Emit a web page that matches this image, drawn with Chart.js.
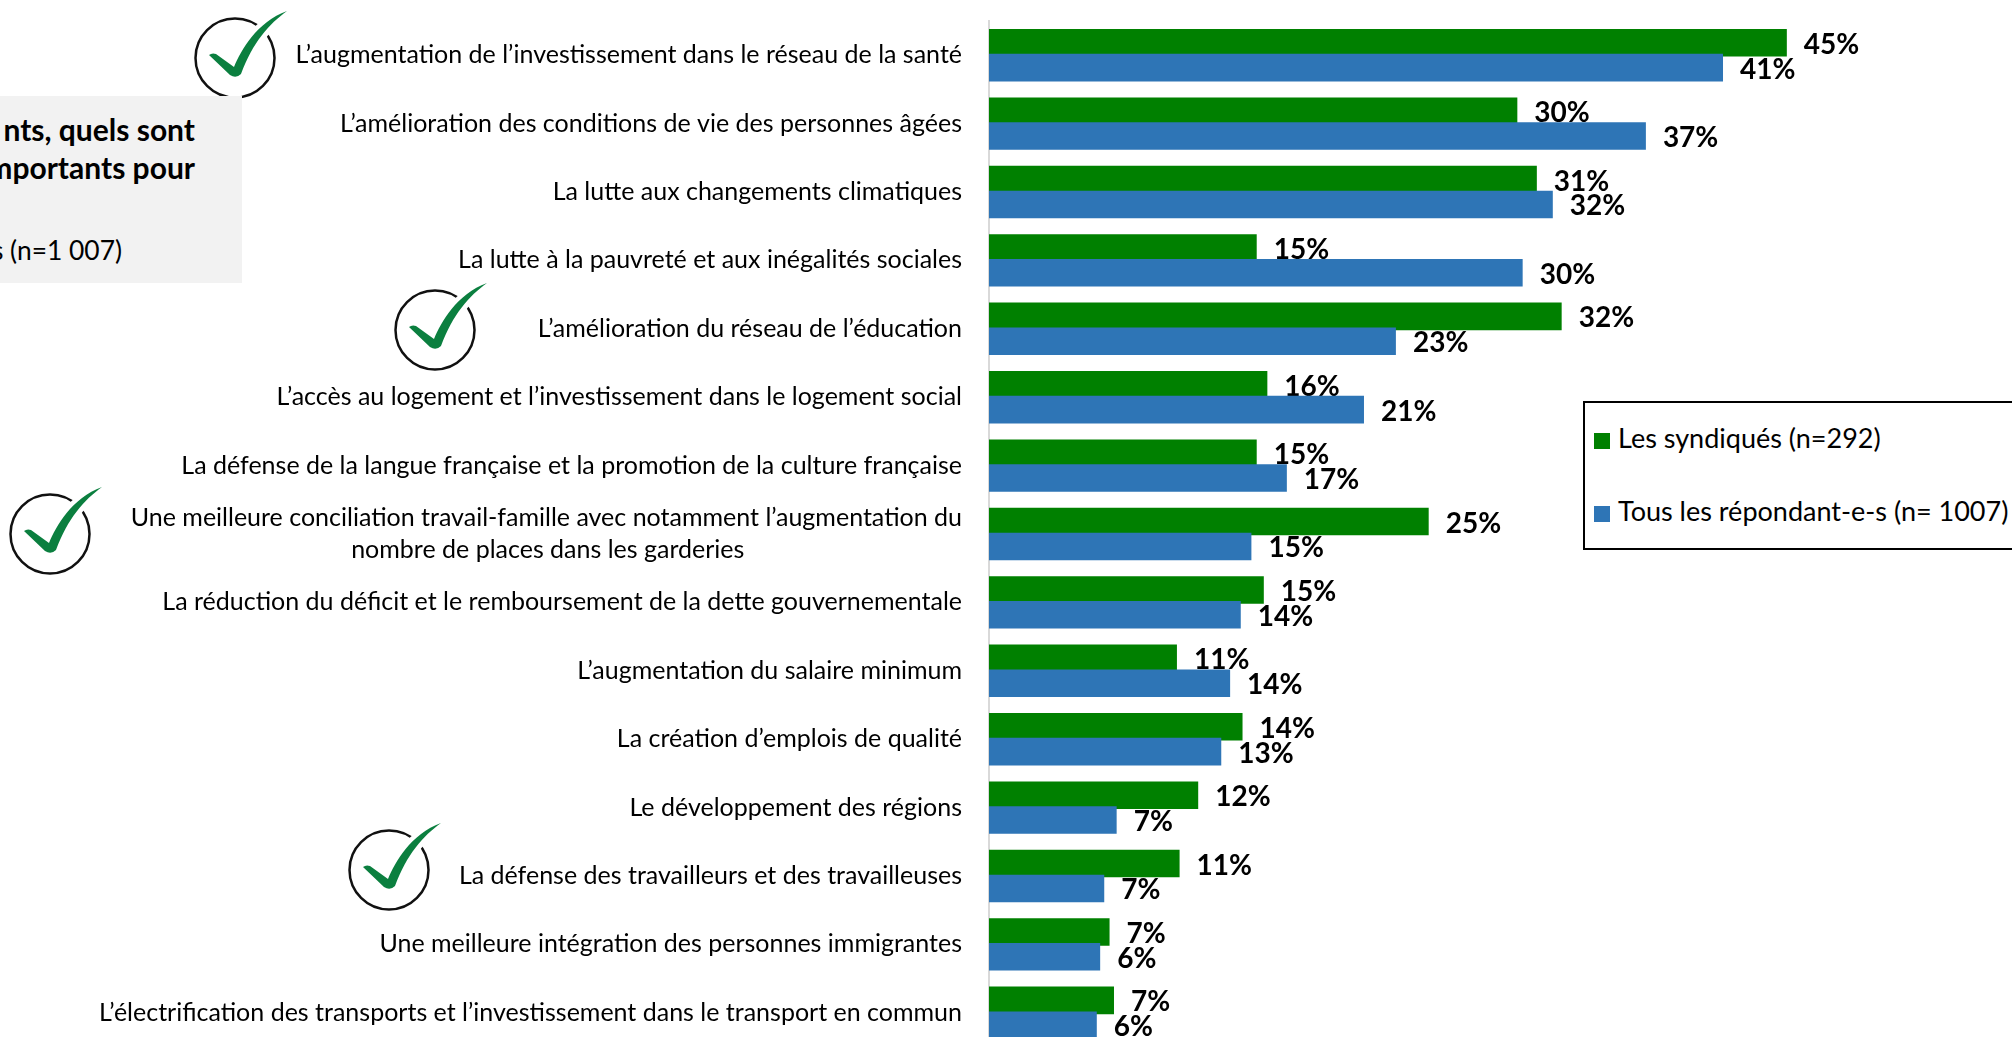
<!DOCTYPE html>
<html lang="fr">
<head>
<meta charset="utf-8">
<script src="https://cdn.jsdelivr.net/npm/chart.js@4/dist/chart.umd.min.js"></script>
<style>
html,body{margin:0;padding:0;background:#fff;overflow:hidden}
#wrap{position:relative;width:2012px;height:1037px;overflow:hidden;font-family:Lato,sans-serif;color:#000}
canvas{position:absolute;left:0;top:0}
#question{position:absolute;left:0;top:96px;width:242px;height:187px;background:#f2f2f2;overflow:hidden}
#question div{position:absolute;right:47px;white-space:nowrap;transform:translateY(-50%)}
#question .q{font-weight:700;font-size:30px}
#question .n{font-size:26.4px;right:120px}
#legend{position:absolute;left:1583px;top:401px;width:440px;height:145px;border:2px solid #000;box-sizing:content-box;background:#fff}
#legend .row{position:absolute;left:9px;white-space:nowrap;font-size:27px;line-height:30px}
#legend .sw{display:inline-block;width:16px;height:16px;margin-right:8px;vertical-align:-1px}
</style>
</head>
<body>
<div id="wrap">
  <canvas id="c" width="2012" height="1047"></canvas>
  <div id="question">
    <div class="q" style="top:33px">nts, quels sont</div>
    <div class="q" style="top:71px">mportants pour</div>
    <div class="n" style="top:154px">s (n=1 007)</div>
  </div>
  <div id="legend"></div>
</div>
<script>
const categories = [
  "L’augmentation de l’investissement dans le réseau de la santé",
  "L’amélioration des conditions de vie des personnes âgées",
  "La lutte aux changements climatiques",
  "La lutte à la pauvreté et aux inégalités sociales",
  "L’amélioration du réseau de l’éducation",
  "L’accès au logement et l’investissement dans le logement social",
  "La défense de la langue française et la promotion de la culture française",
  ["Une meilleure conciliation travail-famille avec notamment l’augmentation du", "nombre de places dans les garderies"],
  "La réduction du déficit et le remboursement de la dette gouvernementale",
  "L’augmentation du salaire minimum",
  "La création d’emplois de qualité",
  "Le développement des régions",
  "La défense des travailleurs et des travailleuses",
  "Une meilleure intégration des personnes immigrantes",
  "L’électrification des transports et l’investissement dans le transport en commun"
];
const seriesNames = ["Les syndiqués (n=292)", "Tous les répondant-e-s (n= 1007)"];
const seriesColors = ["#008000", "#2e75b6"];
const syndiques = [45, 29.8, 30.9, 15.1, 32.3, 15.7, 15.1, 24.8, 15.5, 10.6, 14.3, 11.8, 10.75, 6.8, 7.05];
const repondants = [41.4, 37.05, 31.8, 30.1, 22.95, 21.15, 16.8, 14.8, 14.2, 13.6, 13.1, 7.2, 6.5, 6.27, 6.08];
const syndiquesLabels = ["45%","30%","31%","15%","32%","16%","15%","25%","15%","11%","14%","12%","11%","7%","7%"];
const repondantsLabels = ["41%","37%","32%","30%","23%","21%","17%","15%","14%","14%","13%","7%","7%","6%","6%"];
const checkCentersX = [235, 435, 50, 389];
const checkCentersY = [58, 330, 534, 870];

function drawCheck(ctx, cx, cy) {
  ctx.save();
  ctx.translate(cx, cy);
  ctx.beginPath();
  ctx.arc(0, 0, 39.5, 0, Math.PI * 2);
  ctx.lineWidth = 2.5;
  ctx.strokeStyle = "#111";
  ctx.stroke();
  const tick = new Path2D();
  tick.moveTo(-26, -3);
  tick.quadraticCurveTo(-23, -5.5, -19, -4);
  tick.lineTo(-1, 9);
  tick.bezierCurveTo(6, -8, 22, -36, 52, -47);
  tick.bezierCurveTo(34, -34, 18, -16, 6, 16);
  tick.quadraticCurveTo(1, 21, -5, 17);
  tick.closePath();
  ctx.lineJoin = "round";
  ctx.lineWidth = 9;
  ctx.strokeStyle = "#fff";
  ctx.stroke(tick);
  ctx.fillStyle = "#0b7f3f";
  ctx.fill(tick);
  ctx.restore();
}

const painter = {
  id: "painter",
  beforeDatasetsDraw(chart) {
    const ctx = chart.ctx;
    [[0, syndiquesLabels], [1, repondantsLabels]].forEach(([di, texts]) => {
      const meta = chart.getDatasetMeta(di);
      meta.controller.draw();
      ctx.save();
      ctx.font = "700 28px Lato";
      ctx.fillStyle = "#000";
      ctx.textAlign = "left";
      ctx.textBaseline = "middle";
      meta.data.forEach((bar, i) => ctx.fillText(texts[i], bar.x + 17, bar.y + 2));
      ctx.restore();
    });
  },
  beforeDatasetDraw() { return false; },
  afterDraw(chart) {
    checkCentersX.forEach((x, i) => drawCheck(chart.ctx, x, checkCentersY[i]));
  }
};

const measureCtx = document.createElement("canvas").getContext("2d");
measureCtx.font = "25px Lato";
function centerLines(value) {
  const label = categories[value];
  if (!Array.isArray(label)) return label;
  const widest = Math.max(...label.map(l => measureCtx.measureText(l).width));
  const gap = measureCtx.measureText("\u00A0").width;
  return label.map(l => l + "\u00A0".repeat(Math.round((widest - measureCtx.measureText(l).width) / 2 / gap)));
}

new Chart(document.getElementById("c"), {
  type: "bar",
  data: {
    labels: categories,
    datasets: [
      { label: seriesNames[0], data: syndiques, backgroundColor: seriesColors[0] },
      { label: seriesNames[1], data: repondants, backgroundColor: seriesColors[1] }
    ]
  },
  options: {
    indexAxis: "y",
    responsive: false,
    animation: false,
    devicePixelRatio: 1,
    categoryPercentage: 0.7266,
    barPercentage: 1.107,
    layout: { padding: { top: 21, left: 0, right: 0, bottom: 0 }, autoPadding: false },
    plugins: { legend: { display: false }, title: { display: false }, tooltip: { enabled: false } },
    scales: {
      x: { display: false, min: 0, max: 57.7 },
      y: {
        afterFit(scale) { scale.width = 989; scale.paddingTop = 0; scale.paddingBottom = 0; },
        grid: { display: false, drawTicks: false },
        border: { display: true, color: "#d9d9d9", width: 2 },
        ticks: {
          autoSkip: false,
          padding: 27,
          color: "#000",
          font: { family: "Lato", size: 25, lineHeight: 1.28 },
          callback: centerLines
        }
      }
    }
  },
  plugins: [painter]
});

const legendBox = document.getElementById("legend");
seriesNames.forEach((name, i) => {
  const row = document.createElement("div");
  row.className = "row";
  row.style.top = (20 + i * 73) + "px";
  const sw = document.createElement("span");
  sw.className = "sw";
  sw.style.background = seriesColors[i];
  row.appendChild(sw);
  row.appendChild(document.createTextNode(name));
  legendBox.appendChild(row);
});
</script>
</body>
</html>
